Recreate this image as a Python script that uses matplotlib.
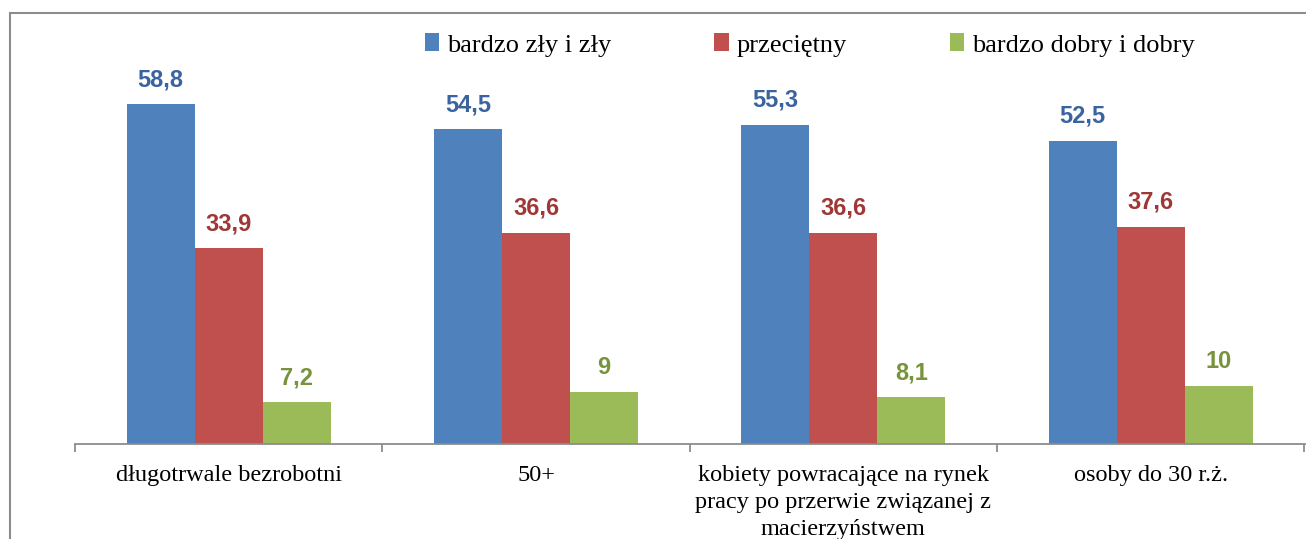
import matplotlib.pyplot as plt
import numpy as np
from matplotlib.patches import Rectangle, Patch

categories = ['długotrwale bezrobotni', '50+',
              'kobiety powracające na rynek\npracy po przerwie związanej z\nmacierzyństwem',
              'osoby do 30 r.ż.']
series = ['bardzo zły i zły', 'przeciętny', 'bardzo dobry i dobry']
bad = [58.8, 54.5, 55.3, 52.5]
average = [33.9, 36.6, 36.6, 37.6]
good = [7.2, 9, 8.1, 10]
colors = ['#4F81BD', '#C0504D', '#9BBB59']
label_colors = ['#3A63A0', '#9E3735', '#77933C']

fig = plt.figure(figsize=(13.06, 5.39), dpi=100)
ax = fig.add_axes([75 / 1306, 1 - 444 / 539, 1230 / 1306, 431 / 539])

x = np.arange(len(categories))
w = 0.221
for i, (vals, c, lc) in enumerate(zip([bad, average, good], colors, label_colors)):
    pos = x + (i - 1) * w
    ax.bar(pos, vals, width=w, color=c, edgecolor='none')
    for p, v in zip(pos, vals):
        txt = f'{v:g}'.replace('.', ',')
        ax.annotate(txt, (p, v), xytext=(0, 13), textcoords='offset points',
                    ha='center', va='baseline', fontsize=17, fontweight='bold',
                    color=lc, family='Liberation Sans')

ax.set_xlim(-0.5, len(categories) - 0.5 + 0.002)
ax.set_ylim(0, 74.6)
for s in ['top', 'left', 'right']:
    ax.spines[s].set_visible(False)
ax.spines['bottom'].set_color('#8C8C8C')
ax.spines['bottom'].set_linewidth(1.3)
ax.set_yticks([])
ax.set_xticks(np.arange(len(categories) + 1) - 0.5)
ax.set_xticklabels([])
ax.tick_params(axis='x', which='major', direction='out', length=6, width=1.3, color='#8C8C8C')
ax.set_xticks(x, minor=True)
ax.set_xticklabels(categories, minor=True, family='Liberation Serif', fontsize=17.5,
                   linespacing=1.38, va='top')
ax.tick_params(axis='x', which='minor', length=0, pad=15)

handles = [Patch(facecolor=c, edgecolor='none') for c in colors]
fig.legend(handles, series, loc='center', bbox_to_anchor=(0.620, 0.9165), ncol=3,
           frameon=False, prop={'family': 'Liberation Serif', 'size': 19},
           handlelength=0.55, handleheight=0.65, handletextpad=0.3, columnspacing=3.9)

fig.patches.append(Rectangle((10 / 1306, -0.1), 1.2, 1.1 - 13 / 539,
                             transform=fig.transFigure, fill=False,
                             edgecolor='#8C8C8C', linewidth=1.5))

fig.savefig('out.png', dpi=100)
